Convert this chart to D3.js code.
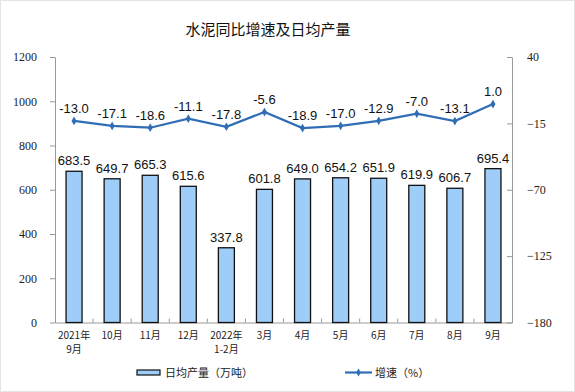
<!DOCTYPE html>
<html><head><meta charset="utf-8">
<script src="https://cdn.jsdelivr.net/npm/d3@7"></script>
<style>body{margin:0;background:#fff}svg{display:block}</style>
</head><body><svg id="c" width="575" height="392"></svg>
<script>
const categories = [["2021年","9月"],["10月"],["11月"],["12月"],["2022年","1-2月"],["3月"],["4月"],["5月"],["6月"],["7月"],["8月"],["9月"]];
const output = [683.5,649.7,665.3,615.6,337.8,601.8,649.0,654.2,651.9,619.9,606.7,695.4];
const growth = [-13.0,-17.1,-18.6,-11.1,-17.8,-5.6,-18.9,-17.0,-12.9,-7.0,-13.1,1.0];
const leftTicks = [0,200,400,600,800,1000,1200];
const rightTicks = [-180,-125,-70,-15,40];

const svg = d3.select("#c");
svg.append("rect").attr("x",0.5).attr("y",0.5).attr("width",574).attr("height",391)
  .attr("fill","#fff").attr("stroke","#e4e4e4");
const L=55,R=512,T=57,B=322.5;
const x = d3.scaleBand().domain(d3.range(categories.length)).range([L,R]).paddingInner(0.58).paddingOuter(0.29);
const xb = d3.scaleBand().domain(d3.range(categories.length)).range([L,R]);
const yL = d3.scaleLinear().domain([0,1200]).range([B,T]);
const yR = d3.scaleLinear().domain([-180,40]).range([B,T]);

svg.append("text").attr("x",268).attr("y",35).attr("text-anchor","middle")
  .attr("font-family","Noto Sans CJK SC").attr("font-size",15).attr("fill","#111").text("水泥同比增速及日均产量");

// left axis
const gl = svg.append("g").attr("transform",`translate(${L},0)`)
  .call(d3.axisLeft(yL).tickValues(leftTicks).tickFormat(d3.format("d")).tickSize(5).tickSizeOuter(0).tickPadding(13));
gl.select(".domain").attr("stroke","#999");
gl.selectAll(".tick line").attr("stroke","#999");
gl.selectAll("text").attr("font-family","Liberation Serif").attr("font-size",12).attr("fill","#222");

// right axis
const gr = svg.append("g").attr("transform",`translate(${R},0)`)
  .call(d3.axisRight(yR).tickValues(rightTicks).tickFormat(d3.format("d")).tickSize(5).tickSizeOuter(0).tickPadding(10));
gr.select(".domain").attr("stroke","#999");
gr.selectAll(".tick line").attr("stroke","#999").attr("x2",-5);
gr.selectAll("text").attr("font-family","Liberation Serif").attr("font-size",12).attr("fill","#222");

// bottom axis
const gb = svg.append("g").attr("transform",`translate(0,${B})`)
  .call(d3.axisBottom(xb).tickSize(0).tickFormat(""));
gb.select(".domain").attr("stroke","#999");
gb.selectAll(".tick").remove();
svg.append("g").selectAll("line").data(d3.range(1,categories.length)).join("line")
  .attr("x1",d=>xb(d)).attr("x2",d=>xb(d)).attr("y1",B).attr("y2",B-4).attr("stroke","#999");

// category labels
const cl = svg.append("g").selectAll("text").data(categories).join("text")
  .attr("text-anchor","middle").attr("font-family","Noto Sans CJK SC").attr("font-size",10).attr("fill","#222");
cl.each(function(d,i){
  const t=d3.select(this);
  d.forEach((s,j)=>t.append("tspan").attr("x",xb(i)+xb.bandwidth()/2).attr("y",339+j*14).text(s));
});

// bars
svg.append("g").selectAll("rect").data(output).join("rect")
  .attr("x",(d,i)=>x(i)).attr("width",x.bandwidth())
  .attr("y",d=>yL(d)).attr("height",d=>B-yL(d))
  .attr("fill","#9fcdf9").attr("stroke","#111").attr("stroke-width",1.3);
svg.append("g").selectAll("text").data(output).join("text")
  .attr("x",(d,i)=>xb(i)+xb.bandwidth()/2).attr("y",d=>yL(d)-6)
  .attr("text-anchor","middle").attr("font-family","Liberation Sans").attr("font-size",13).attr("fill","#111")
  .text(d=>d.toFixed(1));

// line
const cx = i=>xb(i)+xb.bandwidth()/2;
svg.append("path").datum(growth).attr("fill","none").attr("stroke","#2f6db5").attr("stroke-width",2.2)
  .attr("d",d3.line().x((d,i)=>cx(i)).y(d=>yR(d)));
svg.append("g").selectAll("path").data(growth).join("path")
  .attr("transform",(d,i)=>`translate(${cx(i)},${yR(d)})`)
  .attr("d",d3.symbol(d3.symbolDiamond,22)).attr("fill","#2f6db5");
svg.append("g").selectAll("text").data(growth).join("text")
  .attr("x",(d,i)=>cx(i)).attr("y",d=>yR(d)-8)
  .attr("text-anchor","middle").attr("font-family","Liberation Sans").attr("font-size",13).attr("fill","#111")
  .text(d=>d.toFixed(1));

// legend
const lg = svg.append("g");
lg.append("rect").attr("x",137).attr("y",370).attr("width",23).attr("height",5)
  .attr("fill","#9fcdf9").attr("stroke","#111").attr("stroke-width",1.2);
lg.append("text").attr("x",165).attr("y",377).attr("font-family","Noto Sans CJK SC").attr("font-size",11).attr("fill","#222").text("日均产量（万吨）");
lg.append("line").attr("x1",345).attr("x2",372).attr("y1",372.5).attr("y2",372.5).attr("stroke","#2f6db5").attr("stroke-width",2.2);
lg.append("path").attr("transform","translate(358.5,372.5)").attr("d",d3.symbol(d3.symbolDiamond,18)).attr("fill","#2f6db5");
lg.append("text").attr("x",375).attr("y",377).attr("font-family","Noto Sans CJK SC").attr("font-size",11).attr("fill","#222").text("增速（%）");
</script></body></html>
